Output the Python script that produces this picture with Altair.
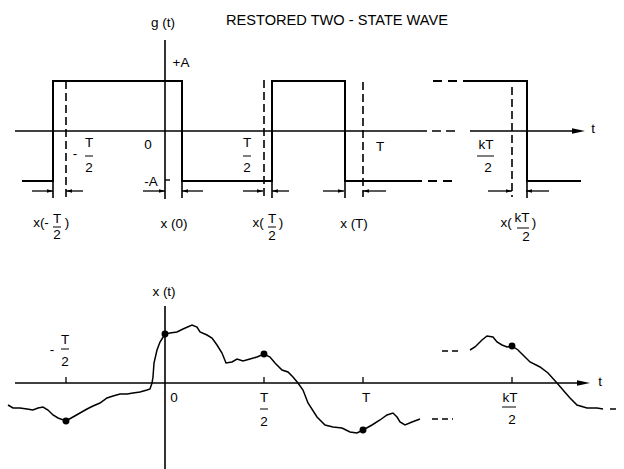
import altair as alt
import pandas as pd

# ---------------------------------------------------------------------------
# Data.
# Time is measured in units of T/198 (so T/2 = 99, T = 198, kT/2 drawn at 347).
# Top panel: g(t) with A = 50.  Bottom panel: x(t) in arbitrary units.
# ---------------------------------------------------------------------------
T_NEG_HALF, T_ZERO, T_HALF, T_ONE, T_K_HALF = -99, 0, 99, 198, 347

# restored two-state wave (solid parts)
wave1_t = [-143, -112, -112, 17, 17, 107, 107, 180, 180, 248]
wave1_g = [-50, -50, 50, 50, -50, -50, 50, 50, -50, -50]
wave2_t = [302, 362, 362, 416]
wave2_g = [50, 50, -50, -50]
# dashed continuations of the wave
wave_dash_t1 = [248, 268]
wave_dash_t2 = [290, 302]
wave_dash_g = [-50, 50]
# transition instants (edges) extended down to the measuring arrows
edge_t = [-112, 17, 107, 180, 362]
# nominal sampling instants (dashed verticals)
nominal_t = [-99, 99, 198, 347]
nominal_top = [50, 51, 49, 44]
# measuring arrows: shaft start -> tip
arrow_from = [-133, -82, -22, 38, 78, 124, 158, 221, 323, 384]
arrow_tip = [-112, -99, 0, 17, 98, 107, 179, 198, 347, 361]

# x(t) curve, first piece (t, value)
curve1_t = [-157, -152, -145, -138, -132, -127, -122, -117, -112, -107, -99,
            -92, -85, -78, -72, -65, -58, -52, -45, -38, -32, -25, -18, -15,
            -13, -12, -11, -8, -5, 0, 5, 12, 18, 27, 32, 35, 42, 47, 52, 57,
            61, 67, 72, 78, 85, 92, 99, 105, 110, 117, 123, 128, 133, 138,
            143, 152, 160, 168, 177, 185, 192, 198, 207, 215, 222, 228, 232,
            235, 240, 247, 255]
curve1_v = [-22, -25, -25, -26, -27, -25, -24, -27, -32, -35, -38,
            -34, -30, -26, -23, -20, -15, -13, -11, -11, -10, -9, -7, -6,
            0, 6, 20, 33, 41, 49, 50, 51, 54, 58, 56, 51, 48, 45, 38, 30,
            20, 21, 24, 22, 24, 26, 29, 26, 20, 13, 11, 6, 0, -7,
            -20, -34, -42, -44, -45, -49, -50, -47, -42, -37, -32, -30, -34,
            -39, -42, -39, -36]
# x(t) curve, second piece
curve2_t = [305, 310, 317, 322, 328, 332, 337, 342, 347, 353, 358, 365, 375,
            383, 392, 398, 405, 412, 422, 432, 438]
curve2_v = [33, 36, 43, 47, 46, 41, 38, 36, 37, 33, 28, 21, 16,
            10, 0, -7, -15, -22, -25, -25, -26]
# dashed continuations "- - -"
curve_dash_t1 = [267, 277, 445]
curve_dash_t2 = [288, 293, 455]
curve_dash_v = [-36, 32, -26]
# sampled points x(-T/2), x(0), x(T/2), x(T), x(kT/2)
sample_t = [-99, 0, 99, 198, 347]
sample_v = [-38, 49, 29, -47, 37]

# labels
top_text_t = [-2, 16, -17, -14, -90, -76, -76, 82, 82, 215, 321, 323,
              -124, -108, -108, -98, 9, 93, 107, 107, 116, 189, 341, 357, 361, 369, 428]
top_text_g = [108, 68, -14, -51, -23, -12, -37, -12, -37, -16, -14, -37,
              -92, -88, -104, -92, -93, -92, -88, -105, -92, -93, -92, -87, -106, -92, 2]
top_text = ["g (t)", "+A", "0", "-A", "-", "T", "2", "T", "2", "T", "kT", "2",
            "x(-", "T", "2", ")", "x (0)", "x(", "T", "2", ")", "x (T)", "x(", "kT", "2", ")", "t"]
top_bar_t1 = [-80, 78, 312, -112, 103, 352]
top_bar_t2 = [-72, 86, 329, -104, 111, 364]
top_bar_g = [-25, -25, -25, -96, -96, -97]
title_text = "RESTORED TWO - STATE WAVE"

bot_text_t = [-1, -113, -100, -100, 9, 99, 99, 201, 345, 347, 435]
bot_text_v = [91, 33, 43, 21, -15, -15, -39, -15, -15, -37, 1]
bot_text = ["x (t)", "-", "T", "2", "0", "T", "2", "T", "kT", "2", "t"]
bot_bar_t1 = [-104, 95, 337]
bot_bar_t2 = [-96, 103, 351]
bot_bar_v = [34, -26, -24]
bot_tick_t = [-99, 99, 198, 347]

# ---------------------------------------------------------------------------
W = 624
TOP_H, BOT_H = 250, 219
FONT = "Liberation Sans"

xs = alt.Scale(domain=[-165, 459], range=[0, W], nice=False, zero=False)
ys_top = alt.Scale(domain=[-119, 131], nice=False, zero=False)
ys_bot = alt.Scale(domain=[-86, 133], nice=False, zero=False)

ARROW_R = "M0,0L-2,-0.6L-2,0.6Z"
ARROW_L = "M0,0L2,-0.6L2,0.6Z"
BIG_ARROW = "M0,0L-2,-0.42L-2,0.42Z"


def X(f="t"):
    return alt.X(f"{f}:Q", scale=xs, axis=None)


def path_df(ts, vs, seg=0):
    return pd.DataFrame({"t": ts, "v": vs, "seg": seg, "i": range(len(ts))})


def lines(df, ys, width=1.8, dash=None):
    kw = dict(color="black", strokeWidth=width, strokeJoin="miter", strokeCap="butt")
    if dash:
        kw["strokeDash"] = dash
    return alt.Chart(df).mark_line(**kw).encode(
        x=X(), y=alt.Y("v:Q", scale=ys, axis=None), detail="seg:N", order="i:Q")


def rules(df, ys, width=1.5, dash=None):
    kw = dict(color="black", strokeWidth=width, strokeCap="butt")
    if dash:
        kw["strokeDash"] = dash
    enc = dict(x=X("t1"), y=alt.Y("v1:Q", scale=ys, axis=None))
    if "t2" in df.columns:
        enc["x2"] = "t2:Q"
    if "v2" in df.columns:
        enc["y2"] = "v2:Q"
    return alt.Chart(df).mark_rule(**kw).encode(**enc)


def heads(ts, vs, shape, size, ys):
    df = pd.DataFrame({"t": ts, "v": vs})
    return alt.Chart(df).mark_point(shape=shape, size=size, filled=True, color="black",
                                    opacity=1, strokeWidth=0).encode(
        x=X(), y=alt.Y("v:Q", scale=ys, axis=None))


def texts(ts, vs, labels, ys, size=13):
    df = pd.DataFrame({"t": ts, "v": vs, "label": labels})
    return alt.Chart(df).mark_text(font=FONT, fontSize=size, color="black",
                                   align="center", baseline="middle").encode(
        x=X(), y=alt.Y("v:Q", scale=ys, axis=None), text="label:N")


# ------------------------------- top panel ---------------------------------
wave_df = pd.concat([path_df(wave1_t, wave1_g, 0), path_df(wave2_t, wave2_g, 1)])
top_layers = [
    # horizontal axis (solid, dashed gap, solid)
    rules(pd.DataFrame({"t1": [-150, 305], "t2": [253, 414], "v1": [0, 0]}), ys_top, 1.6),
    rules(pd.DataFrame({"t1": [253], "t2": [290], "v1": [0]}), ys_top, 1.6, [9, 5]),
    heads([420], [0], BIG_ARROW, 169, ys_top),
    # vertical axis
    rules(pd.DataFrame({"t1": [0], "v1": [91], "v2": [-68]}), ys_top, 1.6),
    rules(pd.DataFrame({"t1": [0], "t2": [5], "v1": [-49]}), ys_top, 1.4),
    # wave
    lines(wave_df, ys_top, 2.0),
    rules(pd.DataFrame({"t1": wave_dash_t1, "t2": wave_dash_t2, "v1": wave_dash_g}),
          ys_top, 1.8, [9, 6]),
    # edge extensions and nominal instants
    rules(pd.DataFrame({"t1": edge_t, "v1": [-50] * len(edge_t), "v2": [-67] * len(edge_t)}),
          ys_top, 1.6),
    rules(pd.DataFrame({"t1": nominal_t, "v1": nominal_top, "v2": [-66] * len(nominal_t)}),
          ys_top, 1.6, [8, 4]),
    # measuring arrows
    rules(pd.DataFrame({"t1": arrow_from, "t2": arrow_tip, "v1": [-60] * len(arrow_tip)}),
          ys_top, 1.3),
    heads([arrow_tip[i] for i in range(0, 10, 2)], [-60] * 5, ARROW_R, 36, ys_top),
    heads([arrow_tip[i] for i in range(1, 10, 2)], [-60] * 5, ARROW_L, 36, ys_top),
    # fraction bars
    rules(pd.DataFrame({"t1": top_bar_t1, "t2": top_bar_t2, "v1": top_bar_g}), ys_top, 1.0),
    texts(top_text_t, top_text_g, top_text, ys_top, 13.5),
    texts([172], [110], [title_text], ys_top, 14.6),
]
top = alt.layer(*top_layers).properties(width=W, height=TOP_H)

# ------------------------------ bottom panel --------------------------------
curve_df = pd.concat([path_df(curve1_t, curve1_v, 0), path_df(curve2_t, curve2_v, 1)])
bot_layers = [
    rules(pd.DataFrame({"t1": [-150], "t2": [418], "v1": [0]}), ys_bot, 1.6),
    heads([425], [0], BIG_ARROW, 169, ys_bot),
    rules(pd.DataFrame({"t1": [0], "v1": [77], "v2": [-86]}), ys_bot, 1.6),
    rules(pd.DataFrame({"t1": bot_tick_t, "v1": [0] * 4, "v2": [6] * 4}), ys_bot, 1.3),
    lines(curve_df, ys_bot, 1.5),
    rules(pd.DataFrame({"t1": curve_dash_t1, "t2": curve_dash_t2, "v1": curve_dash_v}),
          ys_bot, 1.5, [6, 4]),
    alt.Chart(pd.DataFrame({"t": sample_t, "v": sample_v})).mark_circle(
        size=48, color="black", opacity=1).encode(
        x=X(), y=alt.Y("v:Q", scale=ys_bot, axis=None)),
    rules(pd.DataFrame({"t1": bot_bar_t1, "t2": bot_bar_t2, "v1": bot_bar_v}), ys_bot, 1.0),
    texts(bot_text_t, bot_text_v, bot_text, ys_bot, 13.5),
]
bottom = alt.layer(*bot_layers).properties(width=W, height=BOT_H)

chart = alt.vconcat(top, bottom, spacing=0, bounds="flush").properties(
    padding=0, background="white"
).configure_view(stroke=None)

chart.save("out.html", embed_options={"renderer": "svg", "actions": False})
